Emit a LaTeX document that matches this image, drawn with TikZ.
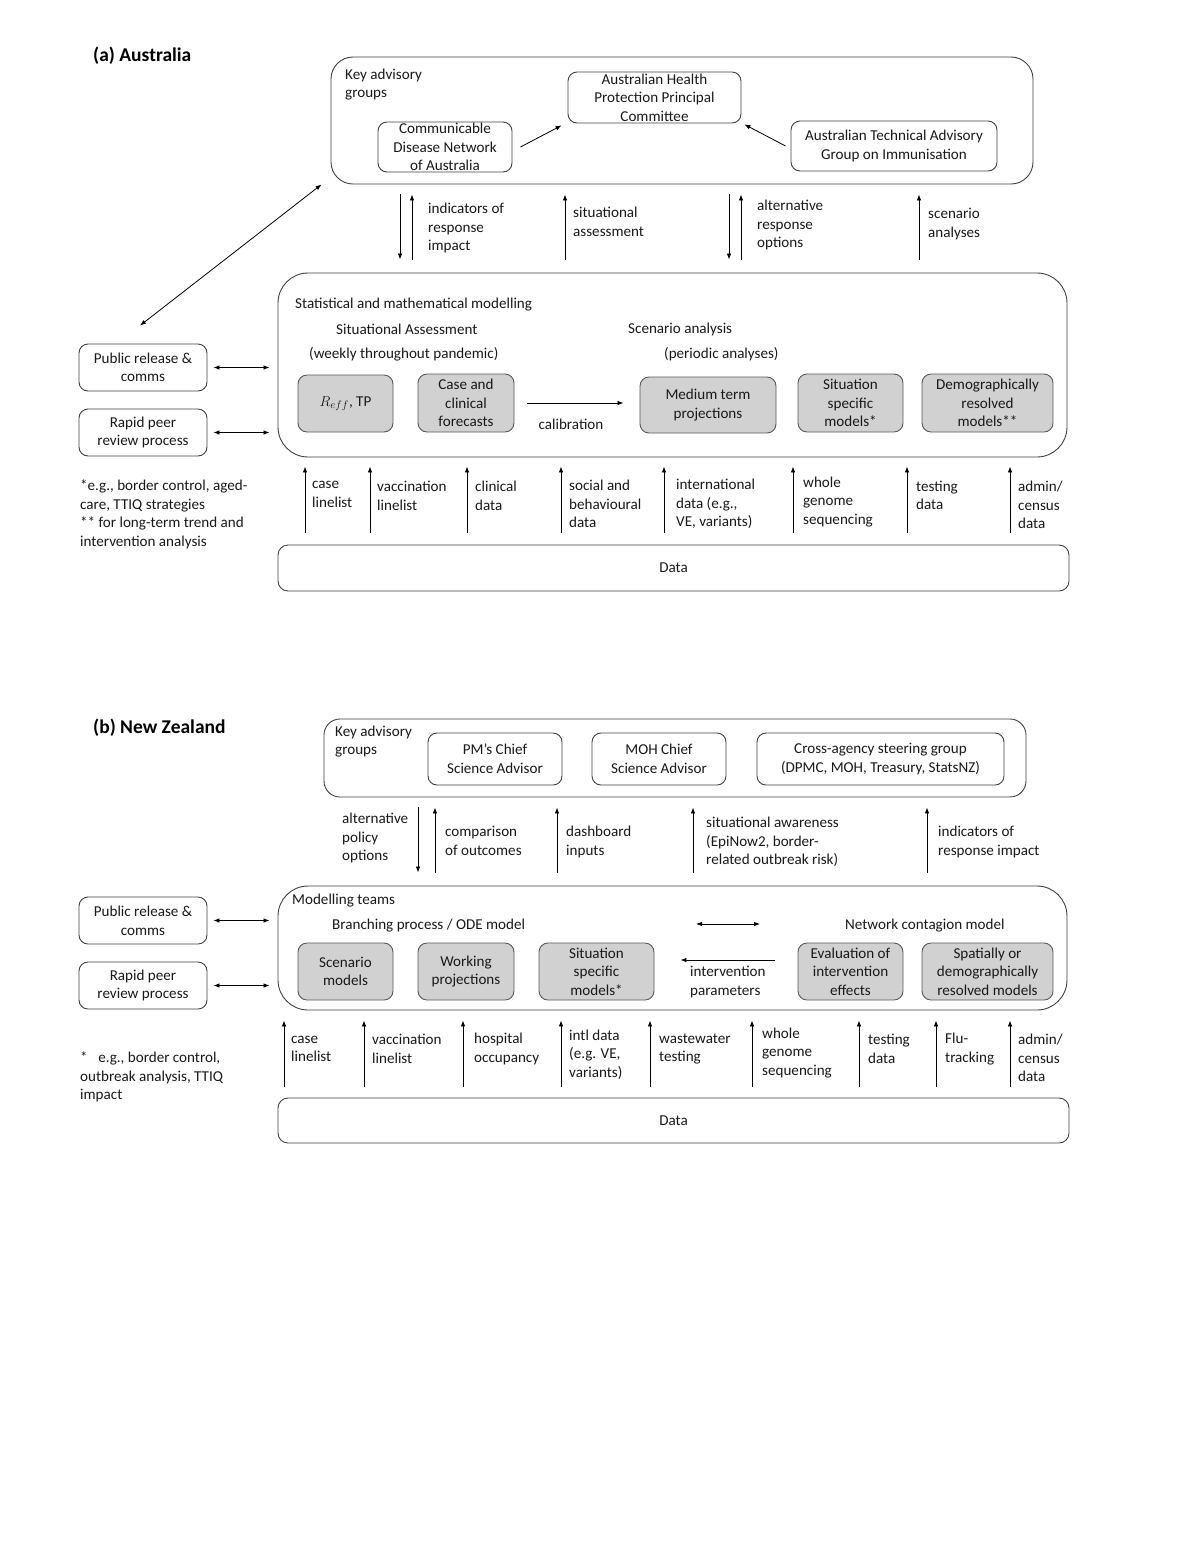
\documentclass[tikz,border=0pt]{standalone}
\usepackage{fontspec}
\setmainfont{Carlito}
\usetikzlibrary{arrows.meta}

\begin{document}
\begin{tikzpicture}[x=1pt, y=-1pt,
  every node/.style={font=\fontsize{15.1}{18.6}\selectfont, text=black!90},
  paneltitle/.style={anchor=west, inner sep=0pt, font=\fontsize{19.5}{23}\selectfont\bfseries, text=black},
  groupbox/.style={draw=black!75, line width=0.9pt, inner sep=0pt},
  orgbox/.style={draw=black!75, line width=0.9pt, rounded corners=9pt, align=center, inner sep=0pt},
  modelbox/.style={orgbox, fill=black!18, draw=black!65},
  lbl/.style={anchor=west, align=left, inner sep=0pt, yshift=-1.5pt},
  flow/.style={-{Latex[length=6pt,width=4.5pt]}, line width=0.8pt},
  both/.style={{Latex[length=6pt,width=4.5pt]}-{Latex[length=6pt,width=4.5pt]}, line width=0.8pt}
]
\useasboundingbox (0,0) rectangle (1196,1567);

% (a) Australia
\node[paneltitle] (au-title) at (93,56) {(a) Australia};

\node[groupbox, rounded corners=22pt, minimum width=702pt, minimum height=127pt] (au-key) at (682,120.5) {};
\node[lbl] (au-l-groups) at (345,83) {Key advisory\\groups};
\node[orgbox, minimum width=173pt, minimum height=51pt] (au-ahppc) at (654.5,97.5) {Australian Health\\Protection Principal\\Committee};
\node[orgbox, minimum width=134pt, minimum height=50pt] (au-cdna) at (445,147) {Communicable\\Disease Network\\of Australia};
\node[orgbox, minimum width=206pt, minimum height=50pt] (au-atagi) at (894,146) {Australian Technical Advisory\\Group on Immunisation};

\draw[flow] ([xshift=8pt]au-cdna.east) -- ([xshift=-6pt,yshift=-2pt]au-ahppc.south west);
\draw[flow] ([xshift=-5pt]au-atagi.west) -- ([xshift=3pt,yshift=-1pt]au-ahppc.south east);

\node[groupbox, rounded corners=30pt, minimum width=789pt, minimum height=184pt] (au-model) at (672.5,365) {};
\node[lbl] (au-l-stat) at (295,303) {Statistical and mathematical modelling};
\node[lbl] (au-l-sa) at (336,328) {Situational Assessment};
\node[lbl] (au-l-weekly) at (309,353) {(weekly throughout pandemic)};
\node[lbl] (au-l-scen) at (628,328) {Scenario analysis};
\node[lbl] (au-l-periodic) at (664,353) {(periodic analyses)};

\node[modelbox, minimum width=95pt, minimum height=57pt] (au-reff) at (345.5,403.5) {$R_{eff}$, TP};
\node[modelbox, minimum width=96pt, minimum height=58pt] (au-case) at (466,403) {Case and\\clinical\\forecasts};
\node[modelbox, minimum width=136pt, minimum height=56pt] (au-medium) at (708,405) {Medium term\\projections};
\node[modelbox, minimum width=105pt, minimum height=58pt] (au-sit) at (850.5,403) {Situation\\specific\\models*};
\node[modelbox, minimum width=131pt, minimum height=58pt] (au-demo) at (987.5,403) {Demographically\\resolved\\models**};

\draw[flow, shorten <=13pt, shorten >=16pt] (au-case.east) -- (au-case.east -| au-medium.west);
\node (au-l-calib) at (571,424) {calibration};

% advice arrows
\draw[flow, shorten <=10pt, shorten >=13pt] (au-key.south -| 400,0) -- (au-model.north -| 400,0);
\draw[flow, shorten <=13pt, shorten >=10pt] (au-model.north -| 412,0) -- (au-key.south -| 412,0);
\node[lbl] (au-l-ind) at (428,226.5) {indicators of\\response\\impact};
\draw[flow, shorten <=13pt, shorten >=10pt] (au-model.north -| 565,0) -- (au-key.south -| 565,0);
\node[lbl] (au-l-sitass) at (573,220.5) {situational\\assessment};
\draw[flow, shorten <=10pt, shorten >=13pt] (au-key.south -| 729,0) -- (au-model.north -| 729,0);
\draw[flow, shorten <=13pt, shorten >=10pt] (au-model.north -| 741,0) -- (au-key.south -| 741,0);
\node[lbl] (au-l-alt) at (757,223.5) {alternative\\response\\options};
\draw[flow, shorten <=13pt, shorten >=10pt] (au-model.north -| 919,0) -- (au-key.south -| 919,0);
\node[lbl] (au-l-scenan) at (928,222.5) {scenario\\analyses};

% outputs
\node[orgbox, minimum width=128pt, minimum height=47pt] (au-public) at (143,367.5) {Public release \&\\comms};
\node[orgbox, minimum width=128pt, minimum height=47pt] (au-peer) at (143,432.5) {Rapid peer\\review process};
\draw[both, shorten <=6pt, shorten >=8pt] (au-public.east) -- (au-public.east -| au-model.west);
\draw[both, shorten <=6pt, shorten >=8pt] (au-peer.east) -- (au-peer.east -| au-model.west);
\draw[both] ([xshift=-9pt]au-key.south west) -- ([xshift=-3pt,yshift=18pt]au-public.north);

\node[lbl] (au-note) at (80,513) {*e.g., border control, aged-\\care, TTIQ strategies\\** for long-term trend and\\intervention analysis};

% data
\node[orgbox, rounded corners=10pt, minimum width=791pt, minimum height=46pt] (au-data) at (673.5,568) {Data};
\draw[flow, shorten <=12pt, shorten >=9pt] (au-data.north -| 305,0) -- (au-model.south -| 305,0);
\draw[flow, shorten <=12pt, shorten >=9pt] (au-data.north -| 370,0) -- (au-model.south -| 370,0);
\draw[flow, shorten <=12pt, shorten >=9pt] (au-data.north -| 467,0) -- (au-model.south -| 467,0);
\draw[flow, shorten <=12pt, shorten >=9pt] (au-data.north -| 561,0) -- (au-model.south -| 561,0);
\draw[flow, shorten <=12pt, shorten >=9pt] (au-data.north -| 664,0) -- (au-model.south -| 664,0);
\draw[flow, shorten <=12pt, shorten >=9pt] (au-data.north -| 793,0) -- (au-model.south -| 793,0);
\draw[flow, shorten <=12pt, shorten >=9pt] (au-data.north -| 907,0) -- (au-model.south -| 907,0);
\draw[flow, shorten <=12pt, shorten >=9pt] (au-data.north -| 1010,0) -- (au-model.south -| 1010,0);
\node[lbl] (au-d-case) at (312,493) {case\\linelist};
\node[lbl] (au-d-vacc) at (377,494.5) {vaccination\\linelist};
\node[lbl] (au-d-clin) at (475,494.5) {clinical\\data};
\node[lbl] (au-d-social) at (569,502.5) {social and\\behavioural\\data};
\node[lbl] (au-d-intl) at (676,502.5) {international\\data (e.g.,\\VE, variants)};
\node[lbl] (au-d-wgs) at (803,500.5) {whole\\genome\\sequencing};
\node[lbl] (au-d-test) at (916,494) {testing\\data};
\node[lbl] (au-d-admin) at (1018,503.5) {admin/\\census\\data};

% (b) New Zealand
\node[paneltitle] (nz-title) at (93,728) {(b) New Zealand};

\node[groupbox, rounded corners=16pt, minimum width=702pt, minimum height=78pt] (nz-key) at (675,758) {};
\node[lbl] (nz-l-groups) at (335,740) {Key advisory\\groups};
\node[orgbox, minimum width=134pt, minimum height=52pt] (nz-pm) at (495,759) {PM’s Chief\\Science Advisor};
\node[orgbox, minimum width=134pt, minimum height=52pt] (nz-moh) at (659,759) {MOH Chief\\Science Advisor};
\node[orgbox, minimum width=247pt, minimum height=52pt] (nz-cross) at (880.5,759) {Cross-agency steering group\\(DPMC, MOH, Treasury, StatsNZ)};

\node[groupbox, rounded corners=30pt, minimum width=789pt, minimum height=124pt] (nz-model) at (672.5,948) {};
\node[lbl] (nz-l-teams) at (292,899) {Modelling teams};
\node[lbl] (nz-l-branch) at (332,924) {Branching process / ODE model};
\node[lbl] (nz-l-network) at (845,924) {Network contagion model};
\coordinate (nz-link-w) at (696,924);
\coordinate (nz-link-e) at (760,924);
\draw[both] (nz-link-w) -- (nz-link-e);

\node[modelbox, minimum width=95pt, minimum height=57pt] (nz-scen) at (345.5,971.5) {Scenario\\models};
\node[modelbox, minimum width=96pt, minimum height=57pt] (nz-work) at (466,971.5) {Working\\projections};
\node[modelbox, minimum width=115pt, minimum height=57pt] (nz-sit) at (596.5,971.5) {Situation\\specific\\models*};
\node[modelbox, minimum width=105pt, minimum height=57pt] (nz-eval) at (850.5,971.5) {Evaluation of\\intervention\\effects};
\node[modelbox, minimum width=131pt, minimum height=57pt] (nz-spat) at (987.5,971.5) {Spatially or\\demographically\\resolved models};

\draw[flow, shorten <=23pt, shorten >=26pt] ([yshift=11.5pt]nz-eval.west) -- ([yshift=11.5pt]nz-sit.east);
\node[lbl] (nz-l-interv) at (690,980.5) {intervention\\parameters};

% advice arrows
\draw[flow, shorten <=10pt, shorten >=13pt] (nz-key.south -| 418,0) -- (nz-model.north -| 418,0);
\node[lbl] (nz-l-alt) at (342,836.5) {alternative\\policy\\options};
\draw[flow, shorten <=13pt, shorten >=10pt] (nz-model.north -| 435,0) -- (nz-key.south -| 435,0);
\node[lbl] (nz-l-comp) at (445,839.5) {comparison\\of outcomes};
\draw[flow, shorten <=13pt, shorten >=10pt] (nz-model.north -| 557,0) -- (nz-key.south -| 557,0);
\node[lbl] (nz-l-dash) at (566,840.5) {dashboard\\inputs};
\draw[flow, shorten <=13pt, shorten >=10pt] (nz-model.north -| 693,0) -- (nz-key.south -| 693,0);
\node[lbl] (nz-l-sitaw) at (706,840.5) {situational awareness\\(EpiNow2, border-\\related outbreak risk)};
\draw[flow, shorten <=13pt, shorten >=10pt] (nz-model.north -| 927,0) -- (nz-key.south -| 927,0);
\node[lbl] (nz-l-ind) at (938,840.5) {indicators of\\response impact};

% outputs
\node[orgbox, minimum width=128pt, minimum height=47pt] (nz-public) at (143,920.5) {Public release \&\\comms};
\node[orgbox, minimum width=128pt, minimum height=47pt] (nz-peer) at (143,985.5) {Rapid peer\\review process};
\draw[both, shorten <=6pt, shorten >=8pt] (nz-public.east) -- (nz-public.east -| nz-model.west);
\draw[both, shorten <=6pt, shorten >=8pt] (nz-peer.east) -- (nz-peer.east -| nz-model.west);

\node[lbl] (nz-note) at (80,1075.5) {*\hspace{0.7em}e.g., border control,\\outbreak analysis, TTIQ\\impact};

% data
\node[orgbox, rounded corners=10pt, minimum width=791pt, minimum height=45pt] (nz-data) at (673.5,1120.5) {Data};
\draw[flow, shorten <=11pt, shorten >=10pt] (nz-data.north -| 284,0) -- (nz-model.south -| 284,0);
\draw[flow, shorten <=11pt, shorten >=10pt] (nz-data.north -| 364,0) -- (nz-model.south -| 364,0);
\draw[flow, shorten <=11pt, shorten >=10pt] (nz-data.north -| 463,0) -- (nz-model.south -| 463,0);
\draw[flow, shorten <=11pt, shorten >=10pt] (nz-data.north -| 561,0) -- (nz-model.south -| 561,0);
\draw[flow, shorten <=11pt, shorten >=10pt] (nz-data.north -| 650,0) -- (nz-model.south -| 650,0);
\draw[flow, shorten <=11pt, shorten >=10pt] (nz-data.north -| 752,0) -- (nz-model.south -| 752,0);
\draw[flow, shorten <=11pt, shorten >=10pt] (nz-data.north -| 859,0) -- (nz-model.south -| 859,0);
\draw[flow, shorten <=11pt, shorten >=10pt] (nz-data.north -| 936,0) -- (nz-model.south -| 936,0);
\draw[flow, shorten <=11pt, shorten >=10pt] (nz-data.north -| 1010,0) -- (nz-model.south -| 1010,0);
\node[lbl] (nz-d-case) at (291,1047.5) {case\\linelist};
\node[lbl] (nz-d-vacc) at (372,1047.5) {vaccination\\linelist};
\node[lbl] (nz-d-hosp) at (474,1047.5) {hospital\\occupancy};
\node[lbl] (nz-d-intl) at (569,1053) {intl data\\(e.g. VE,\\variants)};
\node[lbl] (nz-d-waste) at (659,1047.5) {wastewater\\testing};
\node[lbl] (nz-d-wgs) at (762,1051.5) {whole\\genome\\sequencing};
\node[lbl] (nz-d-test) at (868,1047.5) {testing\\data};
\node[lbl] (nz-d-flu) at (945,1047.5) {Flu-\\tracking};
\node[lbl] (nz-d-admin) at (1018,1056.5) {admin/\\census\\data};

\end{tikzpicture}
\end{document}
